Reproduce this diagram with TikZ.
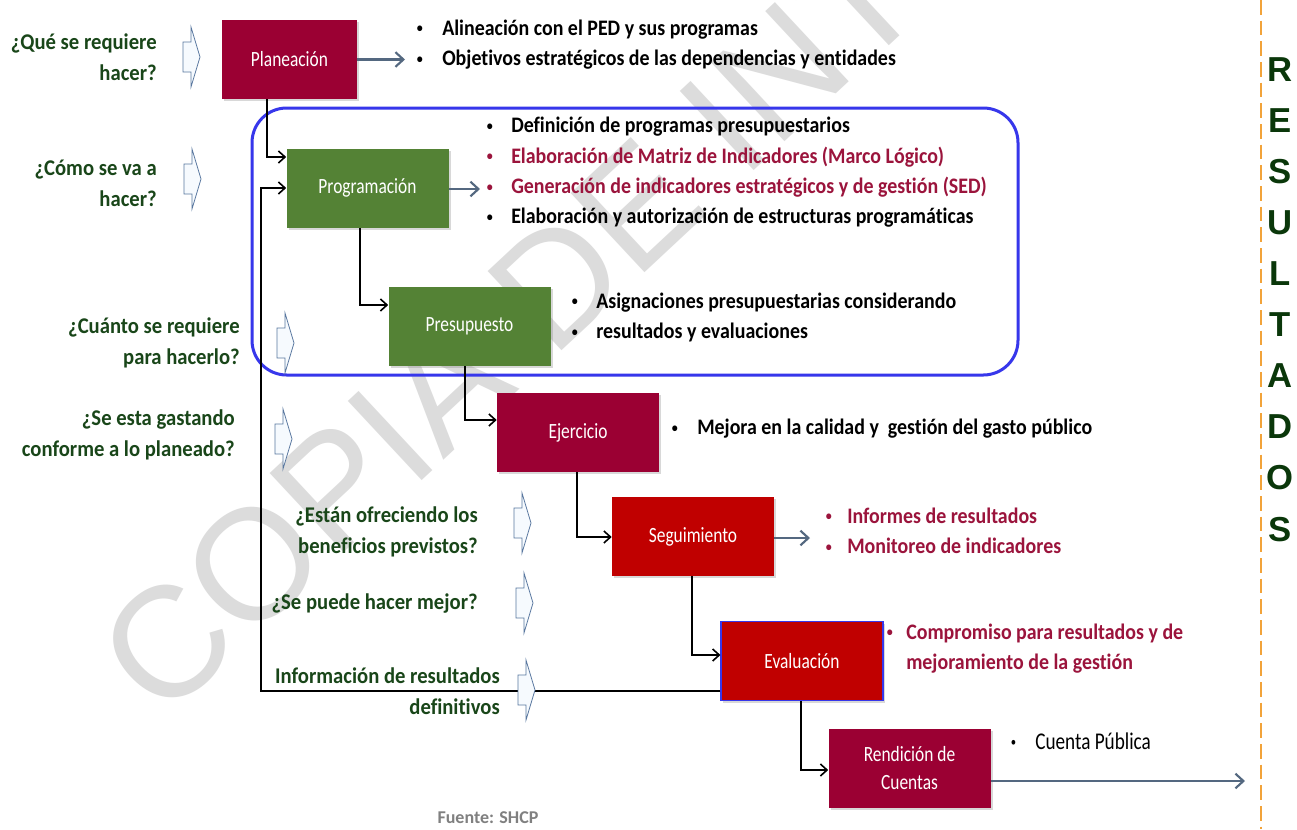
\documentclass[tikz,border=0pt]{standalone}
\usepackage{fontspec}
\setmainfont{Carlito}[Ligatures=NoCommon]
\newfontfamily\boxfont{Carlito}[FakeStretch=0.8,Ligatures=NoCommon]
\newfontfamily\bulfont{Carlito}[FakeStretch=0.9,Ligatures=NoCommon]
\newfontfamily\qfont{Carlito}[FakeStretch=0.92,Ligatures=NoCommon]
\newfontfamily\wmfont{Liberation Sans}
\newfontfamily\resfont{Liberation Sans}
\usetikzlibrary{arrows.meta,shadows,calc}
\definecolor{crim}{RGB}{155,0,51}
\definecolor{grn}{RGB}{84,130,53}
\definecolor{redb}{RGB}{192,0,0}
\definecolor{crimtxt}{RGB}{155,20,60}
\definecolor{qgreen}{RGB}{25,70,25}
\definecolor{slate}{RGB}{84,104,128}
\definecolor{rblue}{RGB}{55,55,235}
\definecolor{orng}{RGB}{242,163,58}
\definecolor{resgreen}{RGB}{10,55,10}
\definecolor{wmgray}{RGB}{220,220,220}
\definecolor{harrowfill}{RGB}{246,250,254}
\definecolor{harrowdraw}{RGB}{90,120,160}
\newcommand\blt[1]{\makebox[#1][l]{\hspace{1.2pt}\raisebox{1.9pt}{\fontsize{10}{10}\selectfont\textbullet}}}
\newcommand\harrow[2]{\draw[harrowsty] ({#1+8},{#2-30}) -- ({#1+8},{#2-15}) -- ({#1},{#2-15}) -- ({#1},{#2+15}) -- ({#1+8},{#2+15}) -- ({#1+8},{#2+30}) -- ({#1+17},{#2}) -- cycle;}
\begin{document}
\begin{tikzpicture}[x=0.75pt,y=-0.75pt,
  box/.style={minimum width=121.5pt, minimum height=59.25pt, inner sep=0pt, text=white,
    font=\boxfont\fontsize{16.3}{21}\selectfont, align=center,
    drop shadow={opacity=0.3,shadow xshift=1.5pt,shadow yshift=-1.5pt}},
  q/.style={anchor=east, align=right, text=qgreen, inner sep=0pt,
    font=\qfont\bfseries\fontsize{16.85}{23.25}\selectfont},
  bl/.style={anchor=west, align=left, inner sep=0pt,
    font=\bulfont\bfseries\fontsize{16.6}{22.8}\selectfont},
  conn/.style={draw=black, line width=1.2pt, -{Straight Barb[length=5pt,width=9pt]}},
  sarrow/.style={draw=slate, line width=1.6pt, -{Straight Barb[length=6pt,width=11pt]}},
  harrowsty/.style={draw=harrowdraw, fill=harrowfill, line width=0.6pt, line join=miter}
]
\useasboundingbox (0,0) rectangle (1297,829);
\fill[white] (0,0) rectangle (1297,829);
% watermark
\begin{scope}
\clip (0,0) rectangle (1297,829);
\node[anchor=base west, rotate=43, inner sep=0pt, text=wmgray,
  font=\wmfont\fontsize{118}{118}\selectfont] (wm) at (162,723) {COPIA DE INT};
\end{scope}
% group frame
\draw[rblue, line width=2.25pt, rounded corners=26pt] (252,108) rectangle (1018,375);
% orange separator
\draw[orng, line width=1.9pt, dash pattern=on 11pt off 4.5pt] (1261,0) -- (1261,829);
% boxes
\node[box, fill=crim, minimum width=101.25pt] (plan) at (289.5,59.5) {Planeación};
\node[box, fill=grn] (prog) at (367.5,188) {Programación};
\node[box, fill=grn] (pres) at (469.5,326.5) {Presupuesto};
\node[box, fill=crim] (ejer) at (578,432.5) {Ejercicio};
\node[box, fill=redb] (segu) at (693,536.5) {Seguimiento};
\node[box, fill=redb, draw=rblue, line width=0.8pt] (eval) at (802,661) {Evaluación};
\node[box, fill=crim] (rend) at (909.5,768.5) {Rendición de\\Cuentas};
% connectors
\draw[conn] (267,0 |- plan.south) |- (prog.west |- 0,157);
\draw[conn] (360,0 |- prog.south) |- (pres.west |- 0,305);
\draw[conn] (465,0 |- pres.south) |- (ejer.west |- 0,420);
\draw[conn] (577,0 |- ejer.south) |- (segu.west |- 0,537);
\draw[conn] (692,0 |- segu.south) |- (eval.west |- 0,655);
\draw[conn] (801,0 |- eval.south) |- (rend.west |- 0,770);
\draw[conn] (eval.west |- 0,691) -| (261,0 |- prog.west) -- (prog.west);
% slate arrows
\coordinate (e1) at (405,59.5);
\coordinate (e2) at (480,189);
\coordinate (e3) at (810,538);
\coordinate (e4) at (1245,781);
\draw[sarrow] (plan.east) -- (e1);
\draw[sarrow] (prog.east |- e2) -- (e2);
\draw[sarrow] (segu.east |- e3) -- (e3);
\draw[sarrow] (rend.east |- e4) -- (e4);
% questions
\node[q] (q1) at (157,57) {¿Qué se requiere\\hacer?};
\node[q] (q2) at (157,183.5) {¿Cómo se va a\\hacer?};
\node[q] (q3) at (240,342.5) {¿Cuánto se requiere\\para hacerlo?};
\node[q] (q4) at (235,435) {¿Se esta gastando\\conforme a lo planeado?};
\node[q] (q5) at (478,531.5) {¿Están ofreciendo los\\beneficios previstos?};
\node[q] (q6) at (478,604) {¿Se puede hacer mejor?};
\node[q] (q7) at (500,691) {Información de resultados\\definitivos};
% hollow arrows
\harrow{183}{57}
\harrow{184}{179}
\harrow{277}{343}
\harrow{275}{439}
\harrow{514}{523}
\harrow{516}{603}
\harrow{518}{690}
% bullet lists
\node[bl] (b1) at (415,44.5) {\blt{20.25pt}Alineación con el PED y sus programas\\\blt{20.25pt}Objetivos estratégicos de las dependencias y entidades};
\node[bl] (b2) at (485,172.5) {\blt{19.5pt}Definición de programas presupuestarios\\
  \textcolor{crimtxt}{\blt{19.5pt}Elaboración de Matriz de Indicadores (Marco Lógico)}\\
  \textcolor{crimtxt}{\blt{19.5pt}Generación de indicadores estratégicos y de gestión (SED)}\\
  \blt{19.5pt}Elaboración y autorización de estructuras programáticas};
\node[bl] (b3) at (570,317.5) {\blt{19.5pt}Asignaciones presupuestarias considerando\\\blt{19.5pt}resultados y evaluaciones};
\node[bl] (b4) at (670,429) {\blt{20.25pt}Mejora en la calidad y~ gestión del gasto público};
\node[bl, text=crimtxt] (b5) at (824,531) {\blt{17.25pt}Informes de resultados\\\blt{17.25pt}Monitoreo de indicadores};
\node[bl, text=crimtxt] (b6) at (885,648.5) {\blt{15.75pt}Compromiso para resultados y de\\\hspace*{15.75pt}mejoramiento de la gestión};
\node[bl, font=\boxfont\fontsize{18}{20}\selectfont] (b7) at (1009,741) {\blt{19.5pt}Cuenta Pública};
% RESULTADOS
\node[align=center, inner sep=0pt, text=resgreen, font=\resfont\bfseries\fontsize{26}{38.3}\selectfont] (res) at (1280,299.5) {R\\E\\S\\U\\L\\T\\A\\D\\O\\S};
% source
\node[inner sep=0pt, text=gray, font=\bfseries\fontsize{13.5}{16}\selectfont] (src) at (488,818) {Fuente: SHCP};
\end{tikzpicture}
\end{document}
